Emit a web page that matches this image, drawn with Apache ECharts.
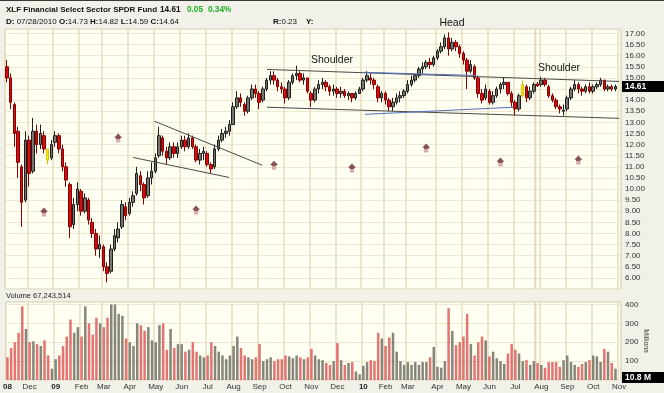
<!DOCTYPE html>
<html><head><meta charset="utf-8">
<script src="https://cdn.jsdelivr.net/npm/echarts@6/dist/echarts.min.js"></script>
<style>html,body{margin:0;padding:0;background:#f1f0e9}#c{width:664px;height:393px}</style>
</head><body><div id="c"></div>
<script>
// ---- data (bars of ~3 trading days) ----
const monthLabels = ['08','Dec','09','Feb','Mar','Apr','May','Jun','Jul','Aug','Sep','Oct','Nov','Dec','10','Feb','Mar','Apr','May','Jun','Jul','Aug','Sep','Oct','Nov'];
const yearLabels = ['08','09','10'];
const barsPerMonth = [6,7,7,6,7,7,7,7,7,7,7,7,7,7,6,6,8,7,7,7,7,7,7,7,1];

const opens = [
15.5,15.0,13.8,12.6,11.0,9.5,
12.2,10.8,12.6,12.0,12.4,11.8,11.4,
12.1,12.4,11.8,11.0,10.2,8.4,9.3,
9.9,9.0,9.5,8.5,8.0,7.3,
7.4,6.5,6.3,7.3,7.8,8.3,9.2,
8.9,9.4,9.8,10.6,10.2,9.7,10.5,
10.8,11.5,12.3,11.7,11.4,11.9,11.6,
11.9,12.2,11.9,12.3,11.9,11.3,11.6,
11.6,11.1,11.0,11.8,12.2,12.5,12.6,
12.9,13.7,14.1,13.8,13.5,14.1,14.5,
14.3,14.0,14.5,14.9,15.1,14.9,14.6,
14.5,14.1,14.8,15.1,15.2,14.9,15.0,
14.3,14.0,14.5,14.7,14.8,14.6,14.4,
14.5,14.3,14.4,14.2,14.3,14.1,14.3,
14.5,14.9,15.0,14.9,14.6,14.1,
14.3,14.0,13.7,13.9,14.1,14.2,
14.4,14.7,14.9,15.1,15.4,15.5,15.7,15.6,
15.9,16.2,16.4,16.8,16.3,16.6,16.4,
16.1,15.8,15.3,15.5,15.0,14.3,14.1,
14.4,13.9,14.2,14.5,14.7,14.8,14.3,
13.9,13.6,14.2,14.6,14.1,14.4,14.73,
14.7,14.9,14.6,14.2,14.0,13.7,13.5,
13.6,14.1,14.5,14.7,14.5,14.4,14.6,
14.4,14.6,14.7,14.9,14.5,14.6,14.5
];
const closes = [
15.0,13.9,12.5,11.2,9.4,12.2,
10.7,12.6,12.0,12.5,11.8,11.3,12.0,
12.4,11.8,11.0,10.4,8.3,9.3,10.0,
9.0,9.6,8.6,8.0,7.3,7.5,
6.5,6.2,7.3,7.9,8.2,9.3,8.8,
9.4,9.7,10.7,10.2,9.6,10.5,10.8,
11.4,12.4,11.7,11.4,11.9,11.6,11.9,
12.2,11.9,12.3,11.9,11.3,11.6,11.7,
11.1,10.9,11.8,12.2,12.5,12.6,12.9,
13.7,14.1,13.9,13.5,14.1,14.5,14.3,
13.9,14.5,14.9,15.1,14.9,14.6,14.5,
14.1,14.8,15.1,15.2,14.9,15.0,14.4,
14.0,14.5,14.7,14.8,14.6,14.4,14.5,
14.3,14.4,14.2,14.3,14.1,14.3,14.5,
14.9,15.1,14.9,14.7,14.1,14.3,
14.0,13.7,13.9,14.1,14.2,14.4,
14.7,14.9,15.1,15.4,15.5,15.7,15.6,15.9,
16.2,16.4,16.8,16.3,16.6,16.4,16.1,
15.8,15.3,15.6,15.0,14.3,14.0,14.5,
13.9,14.2,14.5,14.7,14.8,14.3,13.9,
13.6,14.2,14.7,14.1,14.4,14.7,14.64,
14.9,14.7,14.2,14.0,13.7,13.6,13.55,
14.1,14.5,14.7,14.5,14.4,14.6,14.4,
14.6,14.7,14.9,14.5,14.6,14.5,14.61
];
const lows = [
14.8,13.6,11.9,10.5,8.3,9.4,
10.1,10.7,11.6,11.8,11.6,11.1,11.3,
11.9,11.6,10.8,10.1,7.8,8.2,9.0,
8.8,8.9,8.4,7.8,7.0,6.9,
6.3,5.8,6.2,7.2,7.6,8.2,8.6,
8.8,9.2,9.7,9.9,9.3,9.6,10.2,
10.7,11.4,11.5,11.1,11.3,11.4,11.4,
11.8,11.7,11.8,11.8,11.2,11.1,11.3,
11.0,10.7,10.9,11.7,12.1,12.3,12.4,
12.9,13.6,13.7,13.3,13.4,14.0,14.1,
13.6,13.9,14.4,14.7,14.7,14.4,14.3,
13.85,14.0,14.7,14.9,14.8,14.7,14.3,
13.7,13.9,14.3,14.5,14.4,14.2,14.2,
14.1,14.1,14.1,14.0,13.9,14.0,14.3,
14.4,14.8,14.7,14.5,13.9,13.9,
13.8,13.5,13.5,13.8,13.9,14.1,
14.3,14.6,14.8,15.0,15.2,15.4,15.4,15.5,
15.8,16.1,16.3,16.0,16.2,16.2,15.9,
15.6,14.5,15.2,14.9,14.1,13.85,14.0,
13.8,13.8,14.1,14.3,14.5,14.2,13.7,
13.3,13.5,14.1,13.9,14.0,14.3,14.59,
14.6,14.6,14.1,13.9,13.6,13.4,13.3,
13.5,14.0,14.4,14.3,14.2,14.3,14.3,
14.3,14.5,14.6,14.4,14.4,14.4,14.4
];
const highs = [
15.8,15.2,13.9,12.8,11.1,12.6,
12.4,13.2,12.9,12.9,12.6,11.8,12.2,
12.6,12.5,12.0,11.2,10.3,9.6,10.3,
10.0,9.8,9.6,8.7,8.2,7.9,
7.5,6.7,7.5,8.2,8.5,9.5,9.4,
9.6,9.9,11.0,10.8,10.3,10.8,11.2,
11.6,12.8,12.4,11.9,12.1,12.1,12.1,
12.4,12.4,12.5,12.4,12.0,11.8,11.9,
11.7,11.2,12.0,12.4,12.7,12.8,13.1,
13.9,14.4,14.3,13.9,14.2,14.7,14.7,
14.4,14.6,15.0,15.3,15.3,15.0,14.8,
14.6,14.9,15.2,15.55,15.3,15.2,15.0,
14.4,14.6,14.9,15.0,14.9,14.7,14.7,
14.6,14.6,14.5,14.4,14.3,14.4,14.6,
15.0,15.3,15.2,15.0,14.7,14.4,
14.4,14.1,14.1,14.3,14.4,14.5,
14.9,15.1,15.2,15.5,15.7,15.8,15.9,16.0,
16.3,16.6,16.95,17.05,16.8,16.7,16.5,
16.2,15.9,15.8,15.6,15.1,14.5,14.7,
14.5,14.4,14.6,14.8,15.0,14.8,14.4,
14.0,14.3,14.9,14.7,14.6,14.8,14.82,
15.05,15.0,14.7,14.3,14.1,13.8,13.8,
14.2,14.6,14.9,14.8,14.6,14.7,14.8,
14.7,14.8,15.0,14.9,14.7,14.7,14.7
];
// volume, millions of shares
const volumes = [
120,170,200,250,390,270,
200,205,190,180,210,130,60,
110,130,180,230,320,250,280,
230,390,300,240,330,300,
280,330,400,400,350,340,220,
200,180,300,290,260,280,210,
200,290,300,160,270,170,190,
190,150,160,200,150,130,120,
130,200,180,150,130,110,130,
180,230,170,130,120,110,120,
190,100,110,120,100,110,110,
130,125,115,130,120,110,120,
165,130,110,105,90,80,100,
195,105,80,90,95,45,30,
75,95,105,100,250,220,
180,225,250,150,100,80,
95,80,95,80,95,95,120,175,
70,65,100,380,260,185,200,
230,350,190,130,200,230,210,
125,150,115,100,85,140,190,
160,140,100,105,80,100,90,
80,65,95,95,95,70,105,
130,95,80,70,85,95,105,
130,125,95,165,150,90,60
];
const highlightBars = [11, 139];
const markerIdx = [10, 30, 51, 72, 93, 113, 133, 154];
const markerPrice = [8.96, 12.29, 9.05, 11.07, 10.94, 11.84, 11.21, 11.30];
// trendlines: [barIndex, price] start / end
const blackLines = [
  [[39.8, 13.05], [68.8, 11.07]],
  [[34.0, 11.42], [59.9, 10.52]],
  [[70.1, 15.38], [165.0, 14.84]],
  [[70.1, 13.68], [165.0, 13.18]]
];
const blueLines = [
  [[96.2, 15.25], [126.5, 15.11]],
  [[96.5, 13.36], [136.5, 13.68]]
];
const crosshairIdx = 142.4;
const lastPrice = 14.61;
const lastVolume = 10.8;

// ---- build ----
const cats = [], labelAt = [], isStart = [];
monthLabels.forEach((m, k) => {
  for (let j = 0; j < barsPerMonth[k]; j++) {
    cats.push('b' + cats.length);
    labelAt.push(j === 0 ? m : '');
    isStart.push(j === 0);
  }
});
const N = cats.length;
const F = '"Liberation Sans", Arial, sans-serif';
const candleData = closes.map((c, i) => {
  const d = { value: [opens[i], c, lows[i], highs[i]] };
  if (highlightBars.includes(i)) d.itemStyle = { color: '#ffee00', color0: '#ffee00', borderColor: '#d8c400', borderColor0: '#d8c400' };
  return d;
});
const volData = volumes.map((v, i) => ({
  value: v,
  itemStyle: { color: closes[i] >= opens[i] ? 'rgba(100,100,90,0.78)' : 'rgba(218,64,64,0.72)' }
}));

const GL = 5, GW = 616, PT = 29, PH = 260, VT = 302, VH = 78;
const vSplit = { show: true, interval: (i) => isStart[i], lineStyle: { color: '#e6dec2', width: 1.5 } };

const series = [
  { type: 'line', xAxisIndex: 2, yAxisIndex: 0, data: [[crosshairIdx, 5.5], [crosshairIdx, 17.2]], symbol: 'none', silent: true, z: 1, lineStyle: { color: '#e8d2c2', width: 2 } },
  { type: 'line', xAxisIndex: 3, yAxisIndex: 1, data: [[crosshairIdx, 0], [crosshairIdx, 413]], symbol: 'none', silent: true, z: 1, lineStyle: { color: '#e8d2c2', width: 2 } },
  { type: 'candlestick', xAxisIndex: 0, yAxisIndex: 0, data: candleData, barWidth: 3, z: 3,
    itemStyle: { color: '#77776d', color0: '#d01010', borderColor: '#1e1e1e', borderColor0: '#8a0000', borderWidth: 1 } },
  { type: 'bar', xAxisIndex: 1, yAxisIndex: 1, data: volData, barWidth: '68%' },
  { type: 'scatter', xAxisIndex: 2, yAxisIndex: 0, data: markerIdx.map((x, i) => [x, markerPrice[i]]), z: 4,
    symbol: 'path://M4.5,0 L9,4.2 L7,4.2 L7,9 L2,9 L2,4.2 L0,4.2 Z', symbolSize: [8, 9],
    itemStyle: { color: { type: 'linear', x: 0, y: 0, x2: 0, y2: 1, colorStops: [
      { offset: 0, color: '#6a2530' }, { offset: 0.58, color: '#6a2530' }, { offset: 0.6, color: '#cc9a9e' }, { offset: 1, color: '#cc9a9e' } ] } } }
];
blackLines.forEach(l => series.push({ type: 'line', xAxisIndex: 2, yAxisIndex: 0, data: l, symbol: 'none', silent: true, z: 5, lineStyle: { color: '#4a4a4a', width: 1 } }));
blueLines.forEach(l => series.push({ type: 'line', xAxisIndex: 2, yAxisIndex: 0, data: l, symbol: 'none', silent: true, z: 6, lineStyle: { color: '#4f6fb8', width: 1 } }));

const chart = echarts.init(document.getElementById('c'));
chart.setOption({
  animation: false,
  backgroundColor: '#f1f0e9',
  textStyle: { fontFamily: F },
  grid: [
    { left: GL, top: PT, width: GW, height: PH, show: true, backgroundColor: '#fffff2', borderColor: '#cfcbb8', borderWidth: 1 },
    { left: GL, top: VT, width: GW, height: VH, show: true, backgroundColor: '#fffff2', borderColor: '#cfcbb8', borderWidth: 1 }
  ],
  xAxis: [
    { type: 'category', gridIndex: 0, data: cats, boundaryGap: true, axisLine: { show: false }, axisTick: { show: false }, axisLabel: { show: false }, splitLine: vSplit },
    { type: 'category', gridIndex: 1, data: cats, boundaryGap: true, axisLine: { show: false }, axisTick: { show: false }, splitLine: vSplit,
      axisLabel: { show: true, interval: (i) => isStart[i], margin: 2, fontSize: 8, lineHeight: 9, color: '#333', fontFamily: F,
        formatter: (v, i) => yearLabels.includes(labelAt[i]) ? '{y|' + labelAt[i] + '}' : labelAt[i],
        rich: { y: { fontWeight: 'bold', fontSize: 8, fontFamily: F, color: '#222' } } } },
    { type: 'value', gridIndex: 0, min: -0.5, max: N - 0.5, show: false },
    { type: 'value', gridIndex: 1, min: -0.5, max: N - 0.5, show: false }
  ],
  yAxis: [
    { type: 'value', gridIndex: 0, position: 'right', min: 5.5, max: 17.2, interval: 0.5, axisLine: { show: false }, axisTick: { show: false },
      axisLabel: { margin: 4, fontSize: 8, color: '#333', formatter: v => (v >= 5.99 && v <= 17.01) ? v.toFixed(2) : '' },
      splitLine: { lineStyle: { color: '#efe8d0', width: 1 } } },
    { type: 'value', gridIndex: 1, position: 'right', min: 0, max: 413, interval: 100, axisLine: { show: false }, axisTick: { show: false },
      axisLabel: { margin: 4, fontSize: 8, color: '#333', formatter: v => (v >= 99 && v <= 401) ? String(v) : '' },
      splitLine: { lineStyle: { color: '#efe8d0', width: 1 } } }
  ],
  series: series
});

const pY = chart.convertToPixel({ yAxisIndex: 0 }, lastPrice);
const vY = chart.convertToPixel({ yAxisIndex: 1 }, lastVolume);
const t = (x, y, text, font, fill, extra) => Object.assign({ type: 'text', x: x, y: y, z: 100,
  style: { text: text, font: font, fill: fill, verticalAlign: 'middle' } }, extra || {});
chart.setOption({
  graphic: [
    { type: 'rect', shape: { x: 0, y: 0, width: 664, height: 1 }, style: { fill: '#3a3a3a' }, z: 100 },
    t(6, 10, 'XLF Financial Select Sector SPDR Fund', 'bold 8px ' + F, '#111'),
    t(160, 10, '14.61', 'bold 8.2px ' + F, '#111'),
    t(187, 10, '0.05', 'bold 8.2px ' + F, '#1fae1f'),
    t(208, 10, '0.34%', 'bold 8.2px ' + F, '#1fae1f'),
    { type: 'text', x: 6, y: 22, z: 100, style: { text: '{b|D:} 07/28/2010 {b|O:}14.73 {b|H:}14.82 {b|L:}14.59 {b|C:}14.64',
        font: '8px ' + F, fill: '#111', verticalAlign: 'middle', rich: { b: { fontWeight: 'bold', fontSize: 8, fontFamily: F, fill: '#111' } } } },
    { type: 'text', x: 273, y: 22, z: 100, style: { text: '{b|R:}0.23', font: '8px ' + F, fill: '#111', verticalAlign: 'middle', rich: { b: { fontWeight: 'bold', fontSize: 8, fontFamily: F } } } },
    t(306, 22, 'Y:', 'bold 8px ' + F, '#111'),
    t(452, 23, 'Head', '10.5px ' + F, '#111', { style: { text: 'Head', font: '10.5px ' + F, fill: '#111', align: 'center', verticalAlign: 'middle' } }),
    t(332, 60, 'Shoulder', '10.5px ' + F, '#111', { style: { text: 'Shoulder', font: '10.5px ' + F, fill: '#111', align: 'center', verticalAlign: 'middle' } }),
    t(559, 68, 'Shoulder', '10.5px ' + F, '#111', { style: { text: 'Shoulder', font: '10.5px ' + F, fill: '#111', align: 'center', verticalAlign: 'middle' } }),
    t(6, 296, 'Volume 67,243,514', '7.5px ' + F, '#222'),
    { type: 'rect', z: 100, shape: { x: 622, y: pY - 5.5, width: 42, height: 11 }, style: { fill: '#000' } },
    t(625, pY, '14.61', 'bold 8.5px ' + F, '#fff', { z: 101 }),
    { type: 'rect', z: 100, shape: { x: 622, y: vY - 6, width: 42, height: 11 }, style: { fill: '#000' } },
    t(625, vY - 0.5, '10.8 M', 'bold 8.5px ' + F, '#fff', { z: 101 }),
    { type: 'text', x: 646, y: 341, rotation: -Math.PI / 2, z: 100, style: { text: 'Millions', font: '7px ' + F, fill: '#333', align: 'center', verticalAlign: 'middle' } }
  ]
});
</script></body></html>
